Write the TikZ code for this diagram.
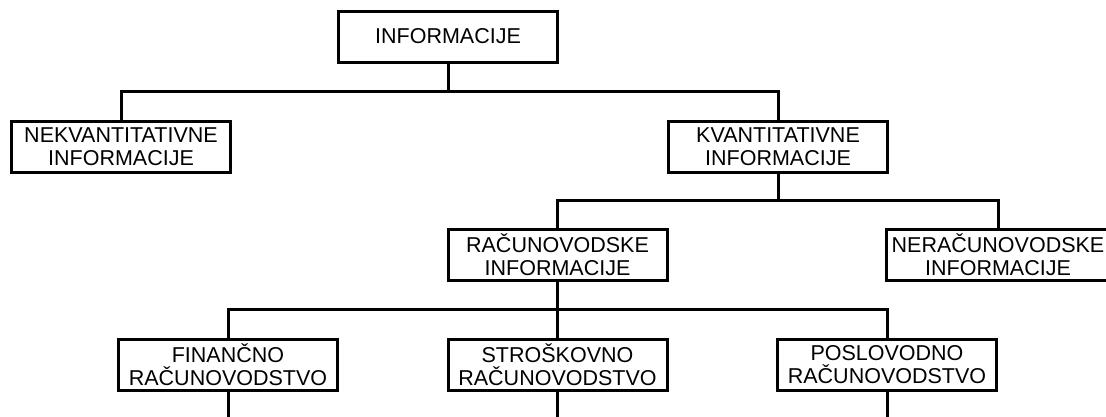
\documentclass[tikz,border=0pt]{standalone}
\usepackage{fontspec}
\setmainfont{Liberation Sans}
\begin{document}
\begin{tikzpicture}[x=1pt,y=-1pt,
  box/.style={draw=black,line width=3pt,rectangle,inner sep=0pt,
    minimum width=219pt,minimum height=51pt,align=center,
    font=\fontsize{21.5}{23}\selectfont},
  conn/.style={draw=black,line width=3pt}]
\useasboundingbox (0,0) rectangle (1106,416);
\node[box] (top) at (448,36.5) {INFORMACIJE};
\node[box] (nekv) at (121,146.5) {NEKVANTITATIVNE\\INFORMACIJE};
\node[box] (kvant) at (778,146.5) {KVANTITATIVNE\\INFORMACIJE};
\node[box] (rac) at (557.5,255) {RAČUNOVODSKE\\INFORMACIJE};
\node[box,minimum width=223pt] (nerac) at (998,255) {NERAČUNOVODSKE\\INFORMACIJE};
\node[box] (fin) at (228,365) {FINANČNO\\RAČUNOVODSTVO};
\node[box] (stros) at (557.5,365) {STROŠKOVNO\\RAČUNOVODSTVO};
\node[box] (posl) at (887,365) {POSLOVODNO\\RAČUNOVODSTVO};
\coordinate (b1) at (0,91);
\coordinate (b2) at (0,200);
\coordinate (b3) at (0,309);
\coordinate (bot) at (0,420);
\draw[conn] (top.south) -- (top.south |- b1);
\draw[conn] (nekv.north) -- (nekv.north |- b1) -- (kvant.north |- b1) -- (kvant.north);
\draw[conn] (kvant.south) -- (kvant.south |- b2);
\draw[conn] (rac.north) -- (rac.north |- b2) -- (nerac.north |- b2) -- (nerac.north);
\draw[conn] (rac.south) -- (rac.south |- b3);
\draw[conn] (fin.north) -- (fin.north |- b3) -- (posl.north |- b3) -- (posl.north);
\draw[conn] (stros.north) -- (stros.north |- b3);
\draw[conn] (fin.south) -- (fin.south |- bot);
\draw[conn] (stros.south) -- (stros.south |- bot);
\draw[conn] (posl.south) -- (posl.south |- bot);
\end{tikzpicture}
\end{document}
